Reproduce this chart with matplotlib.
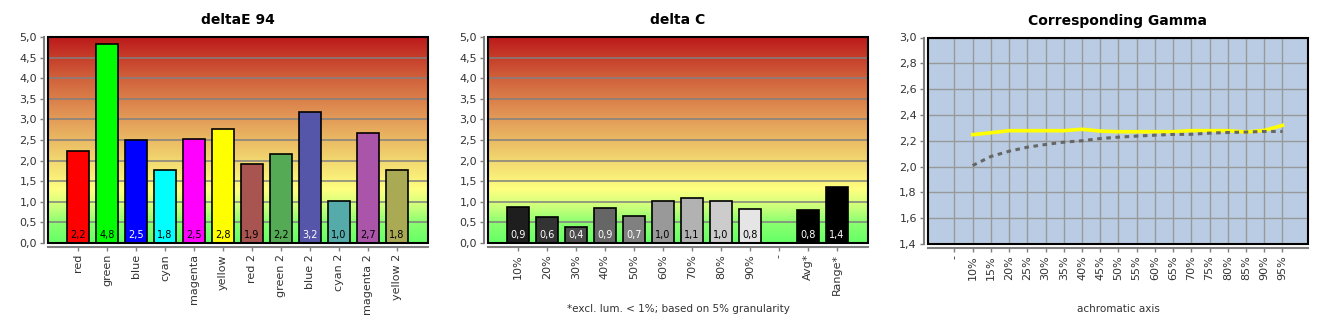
import numpy as np
import matplotlib
matplotlib.use("Agg")
from matplotlib import pyplot as plt
from matplotlib.colors import LinearSegmentedColormap
from matplotlib.patches import Rectangle
from matplotlib.ticker import FuncFormatter, MultipleLocator

# deltaE 94
de_labels = ["red", "green", "blue", "cyan", "magenta", "yellow",
             "red 2", "green 2", "blue 2", "cyan 2", "magenta 2", "yellow 2"]
de_values = [2.24, 4.83, 2.49, 1.77, 2.53, 2.76, 1.91, 2.16, 3.17, 1.03, 2.68, 1.76]
de_colors = ["#ff0000", "#00ff00", "#0000ff", "#00ffff", "#ff00ff", "#ffff00",
             "#a85450", "#55aa55", "#5555aa", "#55aaaa", "#aa55aa", "#aaaa55"]
de_text = ["black", "black", "white", "black", "black", "black",
           "black", "black", "white", "black", "black", "black"]

# delta C
dc_labels = ["10%", "20%", "30%", "40%", "50%", "60%", "70%", "80%", "90%", "-", "Avg*", "Range*"]
dc_values = [0.87, 0.63, 0.39, 0.86, 0.66, 1.02, 1.09, 1.02, 0.83, np.nan, 0.80, 1.36]
dc_colors = ["#1e1e1e", "#333333", "#4c4c4c", "#666666", "#808080", "#999999",
             "#b2b2b2", "#cccccc", "#e5e5e5", "#ffffff", "#000000", "#000000"]
dc_text = ["white", "white", "white", "white", "white", "black",
           "black", "black", "black", "black", "white", "white"]

# Corresponding Gamma
gm_labels = ["-", "10%", "15%", "20%", "25%", "30%", "35%", "40%", "45%", "50%",
             "55%", "60%", "65%", "70%", "75%", "80%", "85%", "90%", "95%"]
gm_yellow = [2.247, 2.262, 2.278, 2.278, 2.278, 2.278, 2.289, 2.275, 2.270,
             2.270, 2.270, 2.270, 2.278, 2.278, 2.278, 2.268, 2.280, 2.319]
gm_gray = [2.008, 2.078, 2.119, 2.150, 2.171, 2.189, 2.200, 2.217, 2.228,
           2.236, 2.243, 2.249, 2.250, 2.259, 2.264, 2.267, 2.272, 2.272]

W, H = 1330, 330
fig = plt.figure(figsize=(W / 100, H / 100), dpi=100)
plt.rcParams['font.family'] = ['DejaVu Sans']

comma = FuncFormatter(lambda v, p: f"{v:.1f}".replace(".", ","))
grad = LinearSegmentedColormap.from_list("bg", [
    (0.00, "#66ff66"), (0.10, "#8cff70"), (0.17, "#c8ff7a"), (0.26, "#ffff80"),
    (0.40, "#f2d870"), (0.60, "#e39c58"), (0.80, "#d1623c"), (1.00, "#bc1a1a")])


def axes_at(x0, top, bottom):
    ax = fig.add_axes([x0 / W, 1 - bottom / H, 380 / W, (bottom - top) / H])
    for s in ["top", "right"]:
        ax.spines[s].set_visible(False)
    for s in ["left", "bottom"]:
        ax.spines[s].set_position(("outward", 3))
        ax.spines[s].set_color("#808080")
        ax.spines[s].set_linewidth(1.5)
    ax.tick_params(colors="#808080", labelcolor="#333333", labelsize=8, length=3, width=1, pad=2)
    ax.add_patch(Rectangle((0, 0), 1, 1, transform=ax.transAxes, fill=False,
                           edgecolor="black", lw=1.5, zorder=6, clip_on=False))
    return ax


def bar_panel(x0, title, labels, values, colors, tcolors):
    ax = axes_at(x0, 37, 243)
    x = np.arange(len(labels))
    xmin, xmax = -1.03, len(labels) + 0.07
    ax.imshow(np.linspace(0, 1, 256).reshape(-1, 1), cmap=grad, origin="lower",
              aspect="auto", extent=(xmin, xmax, 0, 5), zorder=0)
    ax.set_xlim(xmin, xmax)
    ax.set_ylim(0, 5)
    ax.set_axisbelow(True)
    ax.yaxis.grid(True, color="#808080", lw=1.1)
    ax.yaxis.set_major_locator(MultipleLocator(0.5))
    ax.yaxis.set_major_formatter(comma)
    ax.bar(x, values, width=0.76, color=colors, edgecolor="black", lw=1.2, zorder=2)
    for xi, v, tc in zip(x, values, tcolors):
        if np.isnan(v):
            continue
        ax.annotate(f"{v:.1f}".replace(".", ","), (xi, 0), xytext=(0, 2),
                    textcoords="offset points", ha="center", va="bottom",
                    fontsize=7, color=tc, zorder=3)
    ax.set_xticks(x)
    ax.set_xticklabels(labels, rotation=90)
    ax.set_title(title, fontsize=10, fontweight="bold", pad=9)
    return ax


bar_panel(48, "deltaE 94", de_labels, de_values, de_colors, de_text)
ax2 = bar_panel(488, "delta C", dc_labels, dc_values, dc_colors, dc_text)
fig.text(678 / W, 1 - 309 / H, "*excl. lum. < 1%; based on 5% granularity",
         ha="center", va="center", fontsize=7.5, color="#333333")

# gamma panel
ax3 = axes_at(928, 37.5, 244)
ax3.set_facecolor("#b9cce4")
gx = np.arange(len(gm_labels))
ax3.set_xlim(-1.45, 19.4)
ax3.set_ylim(1.4, 3.0)
ax3.set_axisbelow(True)
ax3.grid(True, color="#999999", lw=1.0)
ax3.set_xticks(gx)
ax3.set_xticklabels(gm_labels, rotation=90)
ax3.yaxis.set_major_locator(MultipleLocator(0.2))
ax3.yaxis.set_major_formatter(comma)
ax3.plot(gx[1:], gm_yellow, color="#ffff00", lw=2.6, zorder=3)
ax3.plot(gx[1:], gm_gray, color="#666666", lw=2.2, dashes=(1.5, 1.5), zorder=3)
ax3.set_title("Corresponding Gamma", fontsize=10, fontweight="bold", pad=9)
fig.text(1118 / W, 1 - 309 / H, "achromatic axis",
         ha="center", va="center", fontsize=7.5, color="#333333")

fig.savefig("out.png", dpi=100)
